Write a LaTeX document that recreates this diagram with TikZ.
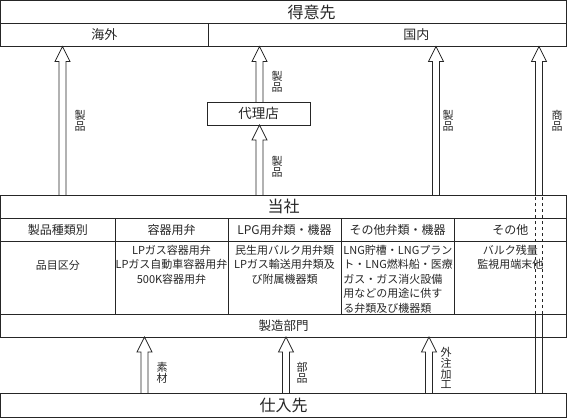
\documentclass[tikz,border=0pt]{standalone}
\usepackage{fontspec}
\setmainfont{Noto Sans CJK JP}
\usetikzlibrary{calc}
\usetikzlibrary{positioning}

\tikzset{
  box/.style={draw, inner sep=0pt, outer sep=0pt, anchor=north west},
  cell/.style={box, minimum width=113pt, minimum height=23pt,
    font=\fontsize{12}{14}\selectfont},
  datacell/.style={box, minimum width=113pt, minimum height=73pt},
  datatext/.style={align=center, inner sep=0pt,
    font=\fontsize{11}{14.5}\selectfont},
  lbl/.style={align=center, inner sep=0pt,
    font=\fontsize{11}{10.8}\selectfont},
  % open block arrow, drawn straight up
  hollow/.style={to path={
    let \p1=(\tikztostart), \p2=(\tikztotarget) in
    (\x1-3.5pt,\y1) -- (\x1-3.5pt,\y2-15pt) -- (\x1-7.5pt,\y2-15pt)
    -- (\x1,\y2) -- (\x1+7.5pt,\y2-15pt) -- (\x1+3.5pt,\y2-15pt)
    -- (\x1+3.5pt,\y1)}},
  shaft/.style={to path={
    let \p1=(\tikztostart), \p2=(\tikztotarget) in
    (\x1-3.5pt,\y1) -- (\x1-3.5pt,\y2) (\x1+3.5pt,\y1) -- (\x1+3.5pt,\y2)}},
}

\begin{document}
\begin{tikzpicture}[x=1pt, y=-1pt, line width=0.7pt, color=black!85]
  \useasboundingbox (0,0) rectangle (567,418);

  % customers
  \node[box, minimum width=566pt, minimum height=23pt,
    label={[font=\fontsize{16}{18}\selectfont, xshift=28pt]center:得意先}]
    (tokui) at (0.5,0.5) {};
  \node[box, minimum width=207.5pt, minimum height=23pt,
    font=\fontsize{13}{15}\selectfont] (kaigai) at (tokui.south west) {海外};
  \node[box, minimum width=358.5pt, minimum height=23pt,
    label={[font=\fontsize{13}{15}\selectfont, xshift=29pt]center:国内}]
    (kokunai) at (kaigai.north east) {};

  \node[box, minimum width=103pt, minimum height=23pt,
    font=\fontsize{13.5}{15}\selectfont] (dairi) at (207,102) {代理店};

  % company table
  \node[box, minimum width=566pt, minimum height=23pt,
    font=\fontsize{16}{18}\selectfont] (tosha) at (0.5,195) {当社};
  \node[cell, minimum width=114.5pt] (h1) at (tosha.south west) {製品種類別};
  \node[cell, right=0pt of h1] (h2) {容器用弁};
  \node[cell, right=0pt of h2] (h3) {LPG用弁類・機器};
  \node[cell, right=0pt of h3] (h4) {その他弁類・機器};
  \node[cell, minimum width=112.5pt, right=0pt of h4] (h5) {その他};
  \node[datacell, minimum width=114.5pt] (d1) at (h1.south west) {};
  \node[datacell] (d2) at (h2.south west) {};
  \node[datacell] (d3) at (h3.south west) {};
  \node[datacell] (d4) at (h4.south west) {};
  \node[datacell, minimum width=112.5pt] (d5) at (h5.south west) {};
  \node[datatext, below=19.5pt of d1.north] (t1) {品目区分};
  \node[datatext, below=3.5pt of d2.north] (t2)
    {LPガス容器用弁\\LPガス自動車容器用弁\\500K容器用弁};
  \node[datatext, below=3.5pt of d3.north] (t3)
    {民生用バルク用弁類\\LPガス輸送用弁類及\\び附属機器類};
  \node[datatext, align=left, anchor=north west] (t4)
    at ($(d4.north west)+(2,3.5)$)
    {LNG貯槽・LNGプラン\\ト・LNG燃料船・医療\\ガス・ガス消火設備\\用などの用途に供す\\る弁類及び機器類};
  \node[datatext, below=3.5pt of d5.north] (t5) {バルク残量\\監視用端末他};
  \node[box, minimum width=566pt, minimum height=23pt,
    font=\fontsize{12.5}{14}\selectfont] (seizo) at (d1.south west) {製造部門};

  % suppliers
  \node[box, minimum width=566pt, minimum height=24pt,
    font=\fontsize{16}{18}\selectfont] (shiire) at (0.5,393) {仕入先};

  % arrow columns
  \coordinate (ax1) at (62.5,0);
  \coordinate (ax2) at (259.5,0);
  \coordinate (ax3) at (436,0);
  \coordinate (ax4) at (539,0);
  \coordinate (bx1) at (144.5,0);
  \coordinate (bx2) at (286,0);
  \coordinate (bx3) at (429,0);

  \draw[hollow] (tosha.north -| ax1) to (kaigai.south -| ax1);
  \draw[hollow] (tosha.north -| ax2) to (dairi.south -| ax2);
  \draw[hollow] (dairi.north -| ax2) to (kokunai.south -| ax2);
  \draw[hollow] (tosha.north -| ax3) to (kokunai.south -| ax3);
  \draw[shaft] (shiire.north -| ax4) to (seizo.north -| ax4);
  \draw[shaft, dashed] (seizo.north -| ax4) to (tosha.north -| ax4);
  \draw[hollow] (tosha.north -| ax4) to (kokunai.south -| ax4);
  \draw[hollow] (shiire.north -| bx1) to (seizo.south -| bx1);
  \draw[hollow] (shiire.north -| bx2) to (seizo.south -| bx2);
  \draw[hollow] (shiire.north -| bx3) to (seizo.south -| bx3);

  % arrow labels
  \node[lbl] (l1) at (80,121) {製\\品};
  \node[lbl] (l2) at (277,82) {製\\品};
  \node[lbl] (l3) at (277,167) {製\\品};
  \node[lbl] (l4) at (448,121) {製\\品};
  \node[lbl] (l5) at (557,121) {商\\品};
  \node[lbl] (l6) at (162,373) {素\\材};
  \node[lbl] (l7) at (302,373) {部\\品};
  \node[lbl] (l8) at (446,368) {外\\注\\加\\工};
\end{tikzpicture}
\end{document}
